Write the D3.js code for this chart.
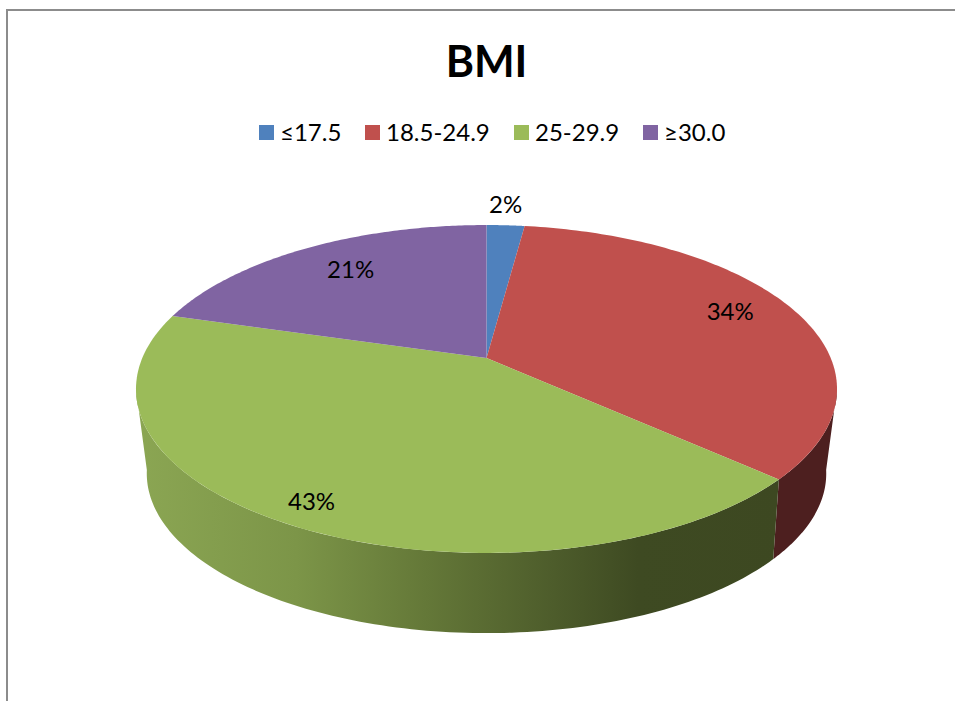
<!DOCTYPE html>
<html>
<head>
<meta charset="utf-8">
<script src="https://cdn.jsdelivr.net/npm/d3@7"></script>
<style>
  html, body { margin: 0; padding: 0; background: #fff; overflow: hidden; }
  svg { display: block; }
  text { font-family: Lato, "Open Sans", sans-serif; fill: #000; }
</style>
</head>
<body>
<svg id="chart" width="955" height="701"></svg>
<script>
// data
var categories = ["≤17.5", "18.5-24.9", "25-29.9", "≥30.0"]
var shares = [2.1, 34.6, 42.8, 20.5]
var labels = ["2%", "34%", "43%", "21%"]

// styles
var topColors = ["#4f81bd", "#c0504d", "#9bbb59", "#8064a2"]
var legendX = [259, 365, 514, 643]
var labelRadius = [1.19, 0.8, 0.89, 0.76]
var labelShift = [[-3,-1], [-2,-6], [0,-2], [5,-3]]

var svg = d3.select("#chart")
var line = d3.line().x(function(p){ return p[0] }).y(function(p){ return p[1] })

//------------------------------------------------------------------------------
// Perspective disc: unit circle on the ground plane, nearer edge drawn larger
//------------------------------------------------------------------------------
var tilt = 0.189, lowerTilt = 0.21
var sx = d3.scaleLinear().domain([-1,1]).range([486.5-344.2, 486.5+344.2])
var sy = d3.scaleLinear().domain([-1,1]).range([358-158.1, 358+158.1])
var wallScale = 0.965, wallDrop = 82

function project(angle, r, lower) {
  var u = Math.sin(angle)*r,
      v = -Math.cos(angle)*r,
      w = 1-(lower ? lowerTilt : tilt)*v,
      x = (sx(u/w)-sx(0)),
      y = (sy(v/w)-sy(0))
  if (lower) {
    return [sx(0)+x*wallScale, sy(0)+wallDrop+y*wallScale]
  }
  return [sx(0)+x, sy(0)+y]
}

function arcPoints(a0, a1, lower) {
  return d3.range(0,121).map(function(i){
    return project(a0+(a1-a0)*i/120, 1, lower)
  })
}

var pie = d3.pie().sort(null).value(function(d){ return d })
var slices = pie(shares)

//------------------------------------------------------------------------------
// Frame
//------------------------------------------------------------------------------
svg.append("path")
  .attr("d","M7,701V10H955")
  .attr("fill","none")
  .attr("stroke","#8c8c8c")
  .attr("stroke-width",2)

//------------------------------------------------------------------------------
// Title and legend
//------------------------------------------------------------------------------
svg.append("text")
  .attr("x",486.5)
  .attr("y",77)
  .attr("text-anchor","middle")
  .attr("font-size",43)
  .attr("font-weight","bold")
  .text("BMI")

var legend = svg.selectAll("g.legend").data(categories).enter().append("g")
  .attr("class","legend")
  .attr("transform",function(d,i){ return "translate("+legendX[i]+",125)" })

legend.append("rect")
  .attr("width",15)
  .attr("height",15)
  .attr("fill",function(d,i){ return topColors[i] })

legend.append("text")
  .attr("x",21)
  .attr("y",16)
  .attr("font-size",24)
  .text(function(d){ return d })

//------------------------------------------------------------------------------
// Side wall, only the part that faces the viewer
//------------------------------------------------------------------------------
var defs = svg.append("defs")
var wallGrad = defs.append("linearGradient")
  .attr("id","wallGreen")
  .attr("gradientUnits","userSpaceOnUse")
  .attr("x1",136).attr("y1",0).attr("x2",780).attr("y2",0)

var wallStops = [[0,"#8ba653"],[0.25,"#7c9548"],[0.45,"#647838"],[0.65,"#4d5c2b"],[0.78,"#3e4a22"],[1,"#3d4821"]]
wallGrad.selectAll("stop").data(wallStops).enter().append("stop")
  .attr("offset",function(d){ return d[0] })
  .attr("stop-color",function(d){ return d[1] })

var wallFill = ["#3a5a85","#4d1f1f","url(#wallGreen)","#5a4672"]
var tangent = Math.acos(-tilt),
    visStart = tangent,
    visEnd = 2*Math.PI-tangent

slices.forEach(function(s,i){
  var a0 = Math.max(s.startAngle,visStart),
      a1 = Math.min(s.endAngle,visEnd)
  if (a1 <= a0) return
  var pts = arcPoints(a0,a1,false).concat(arcPoints(a1,a0,true))
  svg.append("path")
    .attr("d",line(pts)+"Z")
    .attr("fill",wallFill[i])
})

//------------------------------------------------------------------------------
// Top face
//------------------------------------------------------------------------------
svg.selectAll("path.slice").data(slices).enter().append("path")
  .attr("class","slice")
  .attr("fill",function(d,i){ return topColors[i] })
  .attr("d",function(d){
    return line([project(0,0,false)].concat(arcPoints(d.startAngle,d.endAngle,false)))+"Z"
  })

//------------------------------------------------------------------------------
// Percent labels
//------------------------------------------------------------------------------
svg.selectAll("text.share").data(slices).enter().append("text")
  .attr("class","share")
  .attr("text-anchor","middle")
  .attr("dominant-baseline","central")
  .attr("font-size",24)
  .attr("x",function(d,i){ return project((d.startAngle+d.endAngle)/2,labelRadius[i],false)[0]+labelShift[i][0] })
  .attr("y",function(d,i){ return project((d.startAngle+d.endAngle)/2,labelRadius[i],false)[1]+labelShift[i][1] })
  .text(function(d,i){ return labels[i] })
</script>
</body>
</html>
